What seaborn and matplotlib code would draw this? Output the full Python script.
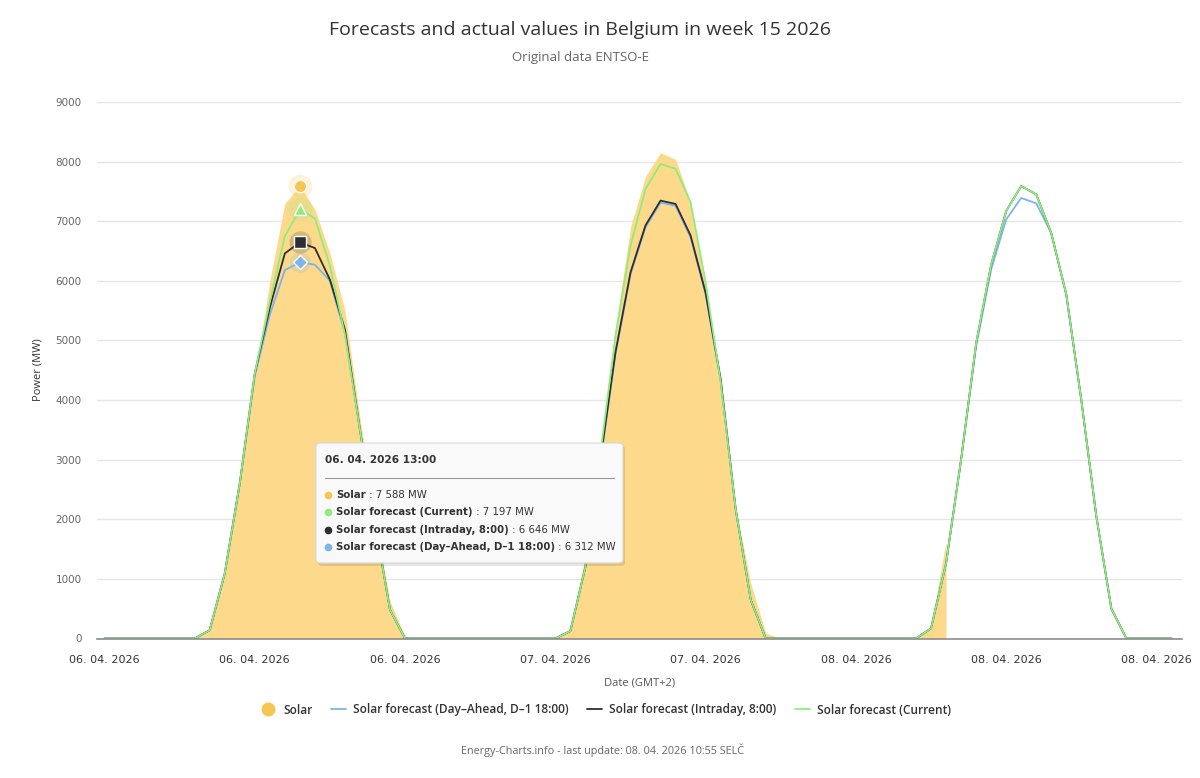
import numpy as np
import pandas as pd
import seaborn as sns
import matplotlib.pyplot as plt
from matplotlib.lines import Line2D
from matplotlib.patches import FancyBboxPatch

sns.set_theme(style="white")
plt.rcParams["font.family"] = ["Open Sans", "DejaVu Sans"]

W, H = 1200, 778

# hourly values, 06.04.2026 00:00 ... 08.04.2026 23:00 (MW)
SOLAR_D1 = [0, 0, 0, 0, 0, 0, 10, 150, 1100, 2600, 4400, 6000,
            7300, 7588, 7200, 6460, 5500, 3700, 2000, 620, 30, 0, 0, 0]
SOLAR_D2 = [0, 0, 0, 0, 0, 0, 0, 150, 1400, 3200, 5200, 6900,
            7750, 8150, 8040, 7320, 5980, 4200, 2200, 930, 90, 0, 0, 0]
SOLAR_D3 = [0, 0, 0, 0, 0, 0, 0, 200, 1640, np.nan, np.nan, np.nan,
            np.nan, np.nan, np.nan, np.nan, np.nan, np.nan, np.nan, np.nan, np.nan, np.nan, np.nan, np.nan]

CURRENT_D1 = [0, 0, 0, 0, 0, 0, 0, 140, 1090, 2600, 4450, 5650,
              6750, 7197, 7050, 6250, 5100, 3500, 1930, 480, 0, 0, 0, 0]
CURRENT_D2 = [0, 0, 0, 0, 0, 0, 0, 125, 1200, 3100, 5080, 6590,
              7540, 7960, 7880, 7320, 5975, 4300, 2170, 650, 0, 0, 0, 0]
CURRENT_D3 = [0, 0, 0, 0, 0, 0, 0, 170, 1260, 3000, 4950, 6270,
              7170, 7590, 7450, 6800, 5770, 4000, 2050, 500, 0, 0, 0, 0]

INTRADAY_D1 = [0, 0, 0, 0, 0, 0, 0, 140, 1090, 2600, 4450, 5550,
               6460, 6646, 6550, 6020, 5180, 3500, 1930, 480, 0, 0, 0, 0]
INTRADAY_D2 = [0, 0, 0, 0, 0, 0, 0, 125, 1200, 3000, 4800, 6140,
               6930, 7346, 7290, 6760, 5800, 4350, 2170, 650, 0, 0, 0, 0]
INTRADAY_D3 = [0, 0, 0, 0, 0, 0, 0, 170, 1260, 3000, 4950, 6270,
               7170, 7590, 7450, 6800, 5770, 4000, 2050, 500, 0, 0, 0, 0]

DAYAHEAD_D1 = [0, 0, 0, 0, 0, 0, 0, 140, 1090, 2600, 4400, 5430,
               6180, 6312, 6270, 6000, 5120, 3500, 1930, 480, 0, 0, 0, 0]
DAYAHEAD_D2 = [0, 0, 0, 0, 0, 0, 0, 125, 1200, 2980, 4770, 6110,
               6900, 7310, 7260, 6730, 5780, 4330, 2170, 650, 0, 0, 0, 0]
DAYAHEAD_D3 = [0, 0, 0, 0, 0, 0, 0, 170, 1260, 3000, 4900, 6190,
               7030, 7390, 7300, 6800, 5770, 4000, 2050, 500, 0, 0, 0, 0]

HOURS = np.arange(72)
SOLAR = SOLAR_D1 + SOLAR_D2 + SOLAR_D3
CURRENT = CURRENT_D1 + CURRENT_D2 + CURRENT_D3
INTRADAY = INTRADAY_D1 + INTRADAY_D2 + INTRADAY_D3
DAYAHEAD = DAYAHEAD_D1 + DAYAHEAD_D2 + DAYAHEAD_D3

TICK_HOURS = [0, 10, 20, 30, 40, 50, 60, 70]
TICK_LABELS = ["06. 04. 2026", "06. 04. 2026", "06. 04. 2026", "07. 04. 2026",
               "07. 04. 2026", "08. 04. 2026", "08. 04. 2026", "08. 04. 2026"]

SERIES = ["Solar forecast (Day\u2013Ahead, D\u20131 18:00)",
          "Solar forecast (Intraday, 8:00)",
          "Solar forecast (Current)"]
COLORS = {SERIES[0]: "#7cb5ec", SERIES[1]: "#2e2e33", SERIES[2]: "#90ed7d"}
SOLAR_FILL = "#fdd98b"
SOLAR_DOT = "#f7c552"

# tooltip at 06.04.2026 13:00
HOVER_HOUR = 13
TIP_TITLE = "06. 04. 2026 13:00"
TIP_ROWS = [("Solar", " : 7 588 MW", SOLAR_DOT),
            ("Solar forecast (Current)", " : 7 197 MW", "#90ed7d"),
            ("Solar forecast (Intraday, 8:00)", " : 6 646 MW", "#2e2e33"),
            ("Solar forecast (Day\u2013Ahead, D\u20131 18:00)", " : 6 312 MW", "#7cb5ec")]

df = pd.DataFrame({
    "hour": np.tile(HOURS, 3),
    "power": DAYAHEAD + INTRADAY + CURRENT,
    "series": np.repeat(SERIES, 72),
})

fig = plt.figure(figsize=(W / 100, H / 100), dpi=100)
ax = fig.add_axes([97 / W, 1 - 638.5 / H, (1182 - 97) / W, (638.5 - 102) / H])

ax.fill_between(HOURS, SOLAR, color=SOLAR_FILL, linewidth=0, zorder=1)
sns.lineplot(data=df, x="hour", y="power", hue="series", hue_order=SERIES,
             palette=COLORS, estimator=None, linewidth=1.3, legend=False, ax=ax, zorder=3)

ax.set_xlim(-0.5, 71.7)
ax.set_ylim(0, 9000)
ax.set_yticks(range(0, 9001, 1000))
ax.set_yticklabels([str(v) for v in range(0, 9001, 1000)], family="DejaVu Sans")
ax.set_xticks(TICK_HOURS)
ax.set_xticklabels(TICK_LABELS, family="DejaVu Sans")
ax.tick_params(axis="x", length=0, pad=12, labelsize=8, labelcolor="#333333")
ax.tick_params(axis="y", length=0, pad=11, labelsize=7.5, labelcolor="#666666")
ax.grid(axis="y", color="#e6e6e6", linewidth=1)
ax.set_axisbelow(True)
for s in ["top", "right", "left"]:
    ax.spines[s].set_visible(False)
ax.spines["bottom"].set_color("#8c8c8c")
ax.spines["bottom"].set_linewidth(1.2)
ax.spines["bottom"].set_zorder(5)
ax.set_xlabel("")
ax.set_ylabel("")

# hover markers
h = HOVER_HOUR
hover = [(SOLAR[h], "o", SOLAR_DOT, 9),
         (CURRENT[h], "^", "#90ed7d", 9),
         (INTRADAY[h], "s", "#2e2e33", 8),
         (DAYAHEAD[h], "D", "#7cb5ec", 7)]
for val, mk, col, ms in hover:
    ax.plot([h], [val], marker="o", ms=ms + 8, color=col, alpha=0.2, mec="none", zorder=6, clip_on=False)
    ax.plot([h], [val], marker=mk, ms=ms, color=col, mec="white", mew=1, zorder=7, clip_on=False)

# titles and labels
fig.text(580 / W, 1 - 30 / H, "Forecasts and actual values in Belgium in week 15 2026",
         ha="center", va="center", fontsize=14, color="#333333")
fig.text(581 / W, 1 - 58 / H, "Original data ENTSO-E", ha="center", va="center",
         fontsize=9.5, color="#666666")
fig.text(38 / W, 1 - 370 / H, "Power (MW)", rotation=90, ha="center", va="center",
         fontsize=8, color="#333333")
fig.text(640 / W, 1 - 683 / H, "Date (GMT+2)", ha="center", va="center",
         fontsize=8, color="#555555")
fig.text(603 / W, 1 - 750 / H, "Energy-Charts.info - last update: 08. 04. 2026 10:55 SEL\u010c",
         ha="center", va="center", fontsize=7.8, color="#666666")

# legend
handles = [Line2D([], [], marker="o", ls="none", ms=9, color=SOLAR_DOT)]
handles += [Line2D([], [], color=COLORS[s], lw=1.3) for s in SERIES]
fig.legend(handles, ["Solar"] + SERIES, loc="center", bbox_to_anchor=(606 / W, 1 - 710 / H),
           ncol=4, frameon=False, handlelength=1.3, columnspacing=1.5, handletextpad=0.6,
           prop={"family": "Open Sans", "weight": "semibold", "size": 8.6}, labelcolor="#333333")

# tooltip box
def px(x, y):
    return x / W, 1 - y / H

shadow = FancyBboxPatch(px(318, 566), (623 - 316) / W, (563 - 443) / H,
                        boxstyle="round,pad=0,rounding_size=0.004", transform=fig.transFigure,
                        facecolor="#000000", alpha=0.10, edgecolor="none", zorder=20)
box = FancyBboxPatch(px(316, 563), (623 - 316) / W, (563 - 443) / H,
                     boxstyle="round,pad=0,rounding_size=0.004", transform=fig.transFigure,
                     facecolor="#f9f9f9", edgecolor="#d8d8d8", linewidth=0.8, zorder=21)
fig.patches.extend([shadow, box])
fig.text(*px(325, 460), TIP_TITLE, ha="left", va="center", fontsize=7.6,
         fontweight="bold", family="DejaVu Sans", color="#333333", zorder=22)
fig.add_artist(Line2D([325 / W, 614 / W], [1 - 478 / H, 1 - 478 / H], color="#999999",
                      lw=0.8, transform=fig.transFigure, zorder=22))
fig.canvas.draw()
renderer = fig.canvas.get_renderer()
for i, (name, value, col) in enumerate(TIP_ROWS):
    y = 495 + i * 17.3
    fig.add_artist(Line2D([328 / W], [1 - y / H], marker="o", ms=4.5, color=col, ls="none",
                          transform=fig.transFigure, zorder=22))
    t = fig.text(*px(336, y), name, ha="left", va="center", fontsize=7.25,
                 fontweight="bold", family="DejaVu Sans", color="#333333", zorder=22)
    bb = t.get_window_extent(renderer)
    fig.text(bb.x1 / W, 1 - y / H, value, ha="left", va="center", fontsize=7.25,
             family="DejaVu Sans", color="#333333", zorder=22)

fig.savefig("out.png", dpi=100)
